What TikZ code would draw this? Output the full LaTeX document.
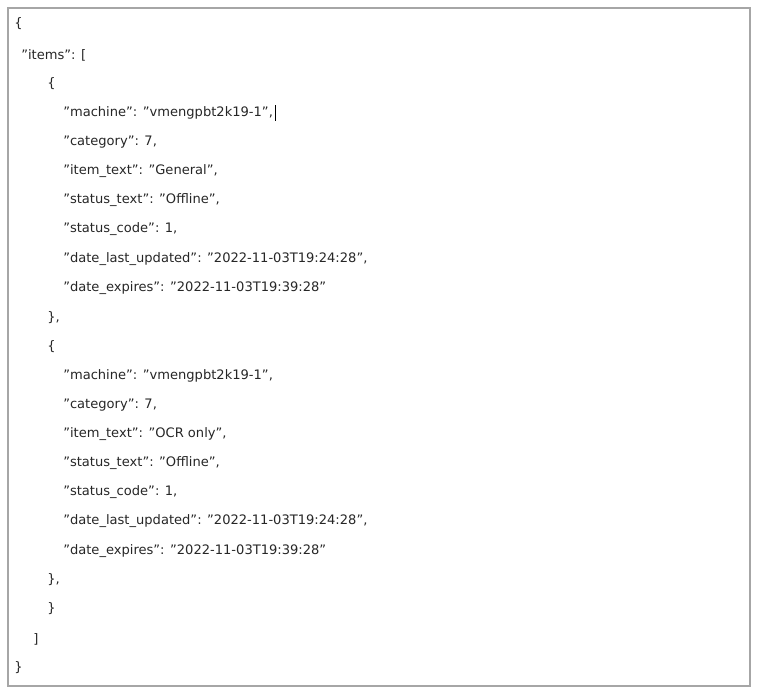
\documentclass[tikz,border=0pt]{standalone}
\usepackage{fontspec}
\setmainfont{DejaVu Sans}
\newcommand{\q}[1]{\symbol{34}#1\symbol{34}}
\begin{document}
\begin{tikzpicture}[x=0.75pt,y=-0.75pt,
    jline/.style={anchor=west, inner sep=0pt, font=\fontsize{9.8}{12}\selectfont, text=black!85}]
        \useasboundingbox (0,0) rectangle (758,696);
        \draw[gray!70, line width=0.8pt] (8,8) rectangle (750,686);

        % outer object
        \node[jline] (open) at (14,24) {\{};
        \node[jline] (items) at (21,55) {\q{items}: [};

        % first item
        \node[jline] (aopen) at (47,84) {\{};
        \node[jline] (amach) at (63,113) {\q{machine}: \q{vmengpbt2k19-1},};
        \node[jline] (acat) at (63,142) {\q{category}: 7,};
        \node[jline] (atext) at (63,171) {\q{item\_text}: \q{General},};
        \node[jline] (astat) at (63,200) {\q{status\_text}: \q{Offline},};
        \node[jline] (acode) at (63,229) {\q{status\_code}: 1,};
        \node[jline] (aupd) at (63,259) {\q{date\_last\_updated}: \q{2022-11-03T19:24:28},};
        \node[jline] (aexp) at (63,288) {\q{date\_expires}: \q{2022-11-03T19:39:28}};
        \node[jline] (aclose) at (47,318) {\},};
        \draw[black, line width=0.6pt] ([xshift=2pt]amach.east) ++(0,-8) coordinate (cur) -- +(0,16);

        % second item
        \node[jline] (bopen) at (47,347) {\{};
        \node[jline] (bmach) at (63,376) {\q{machine}: \q{vmengpbt2k19-1},};
        \node[jline] (bcat) at (63,405) {\q{category}: 7,};
        \node[jline] (btext) at (63,434) {\q{item\_text}: \q{OCR only},};
        \node[jline] (bstat) at (63,463) {\q{status\_text}: \q{Offline},};
        \node[jline] (bcode) at (63,492) {\q{status\_code}: 1,};
        \node[jline] (bupd) at (63,521) {\q{date\_last\_updated}: \q{2022-11-03T19:24:28},};
        \node[jline] (bexp) at (63,551) {\q{date\_expires}: \q{2022-11-03T19:39:28}};
        \node[jline] (bclose) at (47,580) {\},};

        \node[jline] (extra) at (47,609) {\}};
        \node[jline] (list) at (33,639) {]};
        \node[jline] (close) at (14,668) {\}};
    \end{tikzpicture}
\end{document}
